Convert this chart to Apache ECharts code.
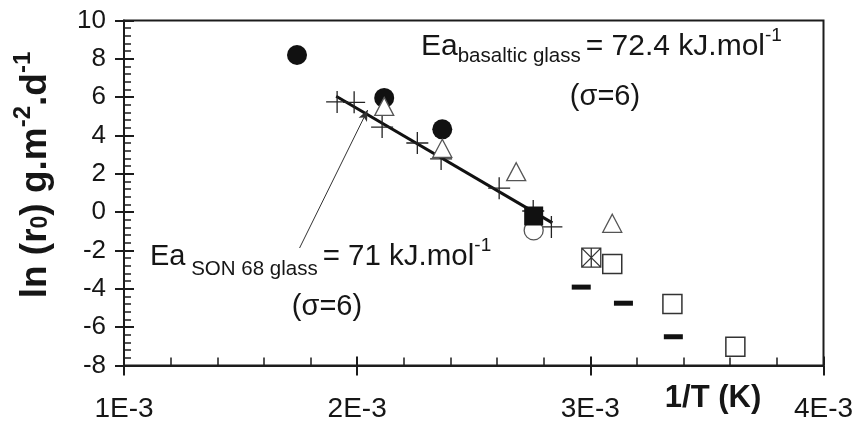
<!DOCTYPE html>
<html><head><meta charset="utf-8">
<script src="https://cdn.jsdelivr.net/npm/echarts@6/dist/echarts.min.js"></script>
<style>html,body{margin:0;padding:0;background:#fff}#c{width:861px;height:428px}</style>
</head><body><div id="c"></div>
<script>
// ---- data (x = 1/T, y = ln r0) ----
const xTickLabels = ['1E-3', '2E-3', '3E-3', '4E-3'];
const filledCircles = [[1.742e-3, 8.20], [2.116e-3, 5.96], [2.365e-3, 4.32]];
const openTriangles = [[2.116e-3, 5.52], [2.365e-3, 3.33], [2.682e-3, 2.11], [3.094e-3, -0.58]];
const son68Crosses = [[1.914e-3, 5.75], [1.987e-3, 5.73], [2.107e-3, 4.44], [2.258e-3, 3.61],
                      [2.360e-3, 2.78], [2.609e-3, 1.25], [2.755e-3, 0.06], [2.833e-3, -0.77]];
const son68Fit = [[1.910e-3, 6.05], [2.837e-3, -0.56]];
const openCircles = [[2.757e-3, -0.95]];
const filledSquares = [[2.757e-3, -0.20]];
const crossedSquares = [[3.004e-3, -2.37]];
const openSquares = [[3.094e-3, -2.71], [3.352e-3, -4.79], [3.622e-3, -7.02]];
const dashes = [[2.961e-3, -3.91], [3.142e-3, -4.75], [3.356e-3, -6.50]];
const arrowPts = [[1.753e-3, -1.87], [2.045e-3, 5.33]];

// ---- text helpers ----
const FONT = '"Liberation Sans", Arial, Helvetica, sans-serif';
const INK = '#161616';
const mctx = document.createElement('canvas').getContext('2d');
function tw(t, s, b) { mctx.font = (b ? 'bold ' : '') + s + 'px ' + FONT; return mctx.measureText(t).width; }
function runs(segs, x0, yc) {
  let x = x0; const out = [];
  segs.forEach(sg => {
    x += (sg.gap || 0);
    out.push({ type: 'text', x: x, y: yc + (sg.dy || 0), silent: true,
      style: { text: sg.t, fontSize: sg.s, fontWeight: sg.b ? 'bold' : 'normal', fontFamily: FONT,
               fill: INK, align: 'left', verticalAlign: 'middle' } });
    x += tw(sg.t, sg.s, sg.b);
  });
  return out;
}
function runsWidth(segs) { return segs.reduce((a, sg) => a + (sg.gap || 0) + tw(sg.t, sg.s, sg.b), 0); }

const yNameSegs = [
  { t: 'ln (r', s: 37, b: true }, { t: '0', s: 23, b: true, dy: 5 }, { t: ') g.m', s: 37, b: true },
  { t: '-2', s: 24, b: true, dy: -13 }, { t: '.d', s: 37, b: true }, { t: '-1', s: 24, b: true, dy: -13 }
];
const ann1 = [
  { t: 'Ea', s: 30 }, { t: 'basaltic glass', s: 20.5, dy: 9 }, { t: '= 72.4 kJ.mol', s: 30, gap: 5 },
  { t: '-1', s: 19, dy: -11 }
];
const ann2 = [
  { t: 'Ea', s: 29 }, { t: ' SON 68 glass', s: 20.5, dy: 12 }, { t: '= 71 kJ.mol', s: 29.5, gap: 5 },
  { t: '-1', s: 19, dy: -11 }
];
const sig = [{ t: '(\u03c3=6)', s: 29 }];

const graphics = [];
graphics.push({ type: 'group', x: 36, y: 175, rotation: Math.PI / 2,
  children: runs(yNameSegs, -runsWidth(yNameSegs) / 2, 0) });
runs(ann1, 421, 47).forEach(e => graphics.push(e));
runs(sig, 605 - runsWidth(sig) / 2, 97).forEach(e => graphics.push(e));
runs(ann2, 150, 257).forEach(e => graphics.push(e));
runs(sig, 327 - runsWidth(sig) / 2, 307).forEach(e => graphics.push(e));
graphics.push({ type: 'text', x: 713, y: 398, silent: true,
  style: { text: '1/T (K)', fontSize: 31, fontWeight: 'bold', fontFamily: FONT, fill: INK,
           align: 'center', verticalAlign: 'middle' } });

// ---- axes ----
const axLine = { onZero: false, lineStyle: { color: '#1c1c1c', width: 2 } };
const xMain = {
  type: 'value', min: 0.001, max: 0.004, interval: 0.001, position: 'bottom',
  axisLine: axLine, splitLine: { show: false },
  axisTick: { inside: true, length: 9, lineStyle: { color: '#1c1c1c', width: 2 } },
  minorTick: { show: true, splitNumber: 5, length: 8, lineStyle: { color: '#1c1c1c', width: 1.5 } },
  axisLabel: { margin: 30, fontSize: 28, fontFamily: FONT, color: INK,
               formatter: v => xTickLabels[Math.round(v * 1000) - 1] }
};
const xOut = {
  type: 'value', min: 0.001, max: 0.004, interval: 0.001, position: 'bottom',
  axisLine: { show: false, onZero: false }, splitLine: { show: false }, axisLabel: { show: false },
  axisTick: { inside: false, length: 10, lineStyle: { color: '#1c1c1c', width: 2 } }
};
const yMain = {
  type: 'value', min: -8, max: 10, interval: 2, position: 'left',
  axisLine: axLine, splitLine: { show: false },
  axisTick: { inside: true, length: 10, lineStyle: { color: '#1c1c1c', width: 2 } },
  minorTick: { show: true, splitNumber: 5, length: 7, lineStyle: { color: '#1c1c1c', width: 1.5 } },
  axisLabel: { margin: 18, fontSize: 26, fontFamily: FONT, color: INK }
};
const yOut = {
  type: 'value', min: -8, max: 10, interval: 2, position: 'left',
  axisLine: { show: false, onZero: false }, splitLine: { show: false }, axisLabel: { show: false },
  axisTick: { inside: false, length: 9, lineStyle: { color: '#1c1c1c', width: 2 } }
};

const sc = (data, extra) => {
  const s = Object.assign({ type: 'scatter', data: data, xAxisIndex: 0, yAxisIndex: 0,
    silent: true, emphasis: { disabled: true } }, extra);
  s.itemStyle = Object.assign({ opacity: 1 }, s.itemStyle);
  return s;
};

const option = {
  animation: false,
  backgroundColor: '#fff',
  grid: { left: 124, right: 37.5, top: 20.5, bottom: 62.5, show: true, borderColor: '#1c1c1c', borderWidth: 2 },
  xAxis: [xMain, xOut],
  yAxis: [yMain, yOut],
  graphic: graphics,
  series: [
    { type: 'line', data: son68Fit, xAxisIndex: 0, yAxisIndex: 0, showSymbol: false, silent: true,
      lineStyle: { color: '#111', width: 3 }, z: 1,
      markLine: { silent: true, symbol: ['none', 'arrow'], symbolSize: [7, 11], label: { show: false },
        lineStyle: { color: '#333', width: 1, type: 'solid' },
        data: [[{ coord: arrowPts[0] }, { coord: arrowPts[1] }]] } },
    sc(son68Crosses, { symbol: 'path://M0,11H22M11,0V22', symbolSize: 22, z: 2,
      itemStyle: { color: 'rgba(0,0,0,0)', borderColor: '#222', borderWidth: 1.3 } }),
    sc(openCircles, { symbol: 'circle', symbolSize: 19, z: 3,
      itemStyle: { color: '#fff', borderColor: '#555', borderWidth: 1.3 } }),
    sc(filledCircles, { symbol: 'circle', symbolSize: 20, z: 4, itemStyle: { color: '#111' } }),
    sc(openTriangles, { symbol: 'triangle', symbolSize: [19, 18], z: 5,
      itemStyle: { color: '#fff', borderColor: '#555', borderWidth: 1.3 } }),
    sc(filledSquares, { symbol: 'rect', symbolSize: 19, z: 6, itemStyle: { color: '#111' } }),
    sc(crossedSquares, { symbol: 'path://M0,0H20V20H0ZM0,0L20,20M20,0L0,20M10,0V20', symbolSize: 19, z: 6,
      itemStyle: { color: '#fff', borderColor: '#333', borderWidth: 1.3 } }),
    sc(openSquares, { symbol: 'rect', symbolSize: 19, z: 6,
      itemStyle: { color: '#fff', borderColor: '#333', borderWidth: 1.5 } }),
    sc(dashes, { symbol: 'rect', symbolSize: [19, 5], z: 6, itemStyle: { color: '#111' } })
  ]
};
const chart = echarts.init(document.getElementById('c'), null, { renderer: 'canvas' });
chart.setOption(option);
</script>
</body></html>
